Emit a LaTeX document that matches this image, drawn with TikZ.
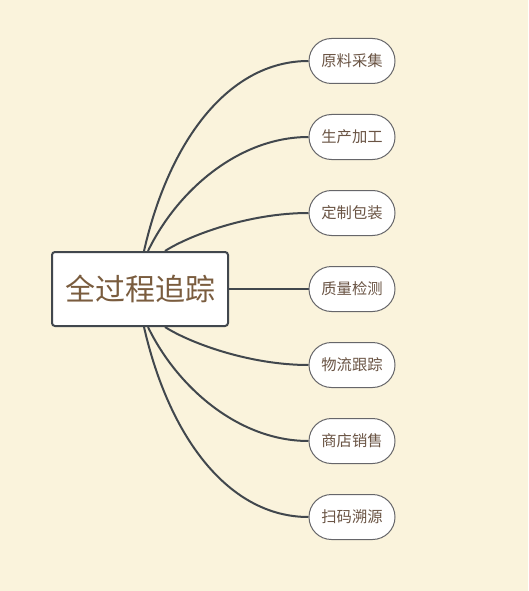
\documentclass[tikz,border=0pt]{standalone}
\usepackage{fontspec}
\setmainfont{Noto Sans CJK SC}
\usetikzlibrary{calc}
\pgfdeclarelayer{back}
\pgfdeclarelayer{lines}
\pgfsetlayers{back,lines,main}
\definecolor{bg}{HTML}{FAF3DC}
\definecolor{linec}{HTML}{41474D}
\definecolor{roottext}{HTML}{7A5C3E}
\definecolor{leaftext}{HTML}{6A5444}
\definecolor{leafborder}{HTML}{66666A}
\tikzset{
  rootbox/.style={draw=linec, line width=2pt, fill=white, rounded corners=3pt,
    minimum width=176pt, minimum height=74pt, inner sep=0pt,
    font=\fontsize{30}{32}\selectfont, text=roottext},
  leafbox/.style={draw=leafborder, line width=1pt, fill=white, rounded corners=22.5pt,
    minimum width=86pt, minimum height=45pt, inner sep=0pt,
    font=\fontsize{15.3}{17}\selectfont, text=leaftext},
  conn/.style={draw=linec, line width=2pt}
}
\begin{document}
\begin{tikzpicture}[x=1pt, y=-1pt]
\begin{pgfonlayer}{back}
\fill[bg] (0,0) rectangle (528,591);
\end{pgfonlayer}
\useasboundingbox (0,0) rectangle (528,591);
\node[leafbox] (n1) at (352,61) {原料采集};
\node[leafbox] (n2) at (352,137) {生产加工};
\node[leafbox] (n3) at (352,213) {定制包装};
\node[leafbox] (n4) at (352,289) {质量检测};
\node[leafbox] (n5) at (352,365) {物流跟踪};
\node[leafbox] (n6) at (352,441) {商店销售};
\node[leafbox] (n7) at (352,517) {扫码溯源};
\node[rootbox] (c) at (140,289) {全过程追踪};
\coordinate (t1) at ($(c.north)+(4,0)$);
\coordinate (t2) at ($(c.north)+(8,0)$);
\coordinate (t3) at ($(c.north)+(25,0)$);
\coordinate (b1) at ($(c.south)+(4,0)$);
\coordinate (b2) at ($(c.south)+(8,0)$);
\coordinate (b3) at ($(c.south)+(25,0)$);
\begin{pgfonlayer}{lines}
\path[conn] (t1) .. controls +(25,-110) and +(-80,0) .. (n1.west);
\path[conn] (t2) .. controls +(29,-60) and +(-70,0) .. (n2.west);
\path[conn] (t3) .. controls +(25,-16) and +(-59,0) .. (n3.west);
\path[conn] (c.east) -- (n4.west);
\path[conn] (b3) .. controls +(25,16) and +(-59,0) .. (n5.west);
\path[conn] (b2) .. controls +(29,60) and +(-70,0) .. (n6.west);
\path[conn] (b1) .. controls +(25,110) and +(-80,0) .. (n7.west);
\end{pgfonlayer}
\end{tikzpicture}
\end{document}
